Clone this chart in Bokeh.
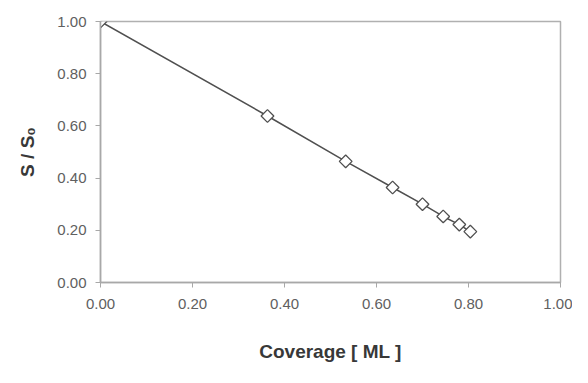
import math
from bokeh.plotting import figure
from bokeh.models import FixedTicker, NumeralTickFormatter, Range1d
from bokeh.embed import file_html
from bokeh.resources import INLINE

coverage = [0.0, 0.363, 0.533, 0.635, 0.700, 0.745, 0.780, 0.804]
s_ratio = [1.00, 0.638, 0.464, 0.364, 0.300, 0.253, 0.222, 0.195]
tick_values = [0.0, 0.2, 0.4, 0.6, 0.8, 1.0]

p = figure(width=572, height=367, output_backend="svg", toolbar_location=None,
           x_range=Range1d(0, 1), y_range=Range1d(0, 1),
           min_border_left=100, min_border_right=12, min_border_top=21, min_border_bottom=85)
p.background_fill_color = "white"
p.border_fill_color = "white"
p.outline_line_color = "#b0b0b0"
p.outline_line_width = 1.5
p.xgrid.visible = False
p.ygrid.visible = False

for ax in (p.xaxis, p.yaxis):
    ax.ticker = FixedTicker(ticks=tick_values)
    ax.formatter = NumeralTickFormatter(format="0.00")
    ax.axis_line_color = "#a8a8a8"
    ax.axis_line_width = 1.5
    ax.major_tick_line_color = "#a8a8a8"
    ax.major_tick_out = 5
    ax.major_tick_in = 0
    ax.minor_tick_line_color = None
    ax.major_label_text_font = "Liberation Sans"
    ax.major_label_text_font_size = "15px"
    ax.major_label_text_color = "#606060"
    ax.axis_label_text_font = "Liberation Sans"
    ax.axis_label_text_font_style = "bold"
    ax.axis_label_text_font_size = "19px"
    ax.axis_label_text_color = "#383838"

p.xaxis.axis_label = "Coverage [ ML ]"
p.yaxis.axis_label = "S / S\u2080"
p.xaxis.major_label_standoff = 11
p.yaxis.major_label_standoff = 9
p.xaxis.axis_label_standoff = 29
p.yaxis.axis_label_standoff = 16

p.line(coverage, s_ratio, line_color="#505050", line_width=1.5)
p.scatter(coverage, s_ratio, marker="square", size=9, angle=math.pi / 4,
          line_color="#505050", fill_color="white", line_width=1.3)

open("out.html", "w").write(file_html(p, INLINE))
